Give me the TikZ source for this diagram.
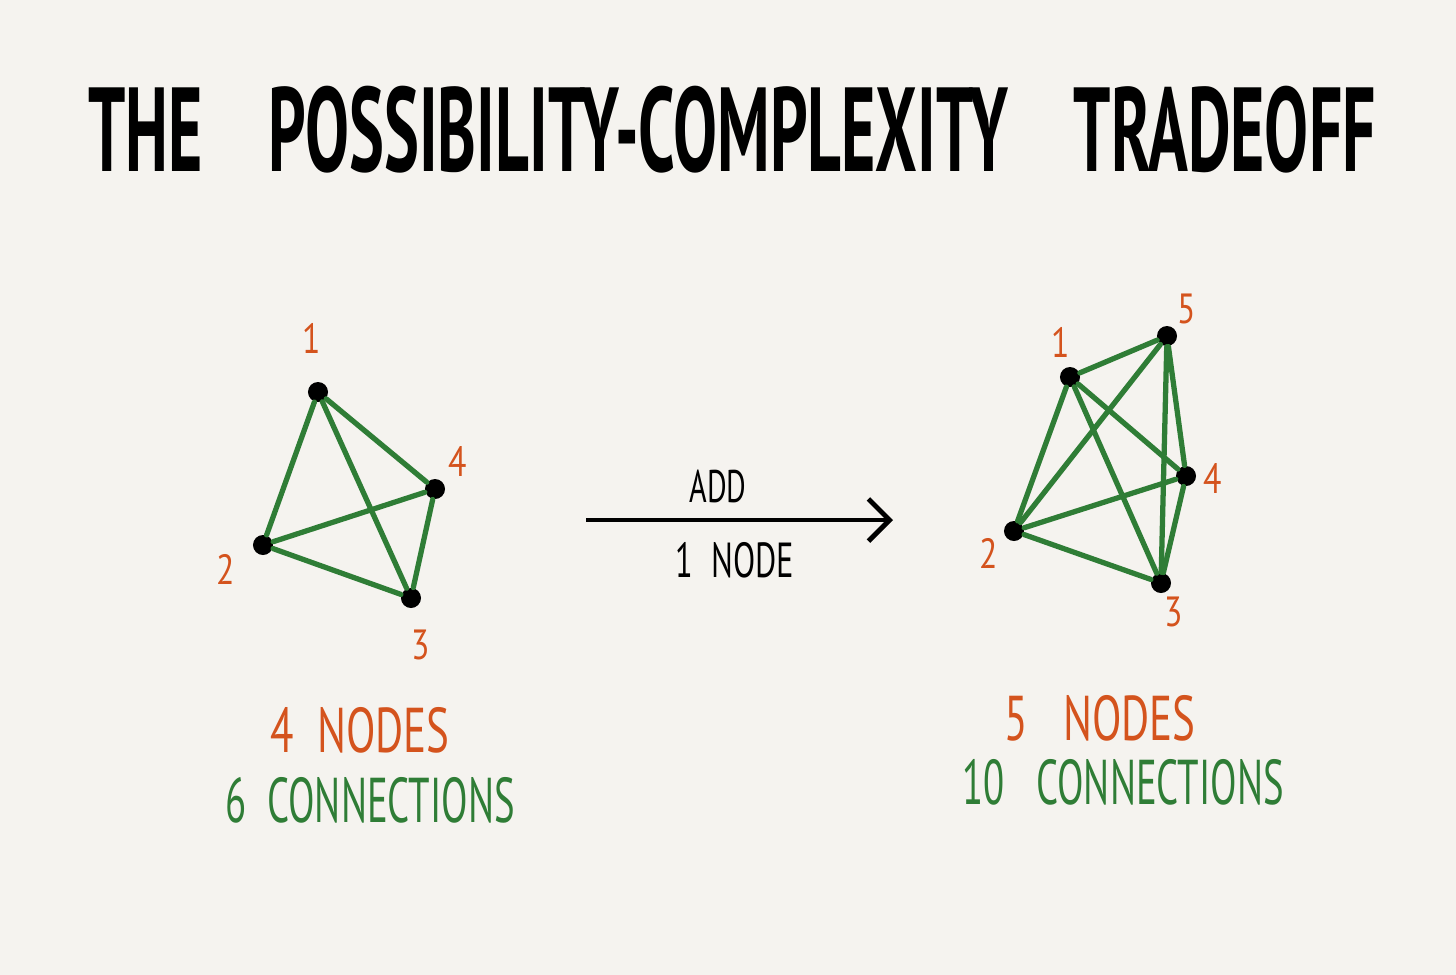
\documentclass[tikz,border=0pt]{standalone}
\usepackage{fontspec}
\setmainfont{PT Sans}
\usetikzlibrary{arrows.meta}
\definecolor{papel}{HTML}{F5F3EF}
\definecolor{naranja}{HTML}{D4531D}
\definecolor{verde}{HTML}{2F7D36}

\begin{document}
\begin{tikzpicture}[x=0.01cm,y=-0.01cm,
  punto/.style={circle,fill=black,inner sep=0pt,minimum size=0.2cm},
  arista/.style={verde,line width=1.5pt,line cap=round},
  num/.style={naranja,font=\fontsize{12}{12}\selectfont,xscale=0.8},
  cuenta/.style={font=\fontsize{18}{18}\selectfont,xscale=0.68}]
% fondo (x1 , y1 )(x2 , y2)
\fill[papel] (0,0) rectangle (1456,975);

%% titulo %%%%%%%%%%%%%%%%%%%%%%%%%%%%%%%%%%%%%%%%%%
\node[font=\fontsize{34}{34}\bfseries,xscale=0.55] (titulo) at (732,130)
  {THE\quad POSSIBILITY-COMPLEXITY\quad TRADEOFF};

%% grafo de 4 nodos %%%%%%%%%%%%%%%%%%%%%%%%%%%%%%%%
\node[punto] (a1) at (318,392) {};
\node[punto] (a2) at (263,545) {};
\node[punto] (a3) at (411,598) {};
\node[punto] (a4) at (435,489) {};
\foreach \i/\j in {1/2,1/3,1/4,2/3,2/4,3/4}{
\draw[arista] (a\i) -- (a\j);
}
\node[num] (la1) at (312,338) {1};
\node[num] (la2) at (226,569) {2};
\node[num] (la3) at (421,645) {3};
\node[num] (la4) at (458,461) {4};

%% flecha: add 1 node %%%%%%%%%%%%%%%%%%%%%%%%%%%%%%
\coordinate (ini) at (586,520);
\coordinate (fin) at (893,520);
\draw[line width=1.4pt,-{Straight Barb[length=6pt,width=12pt]}] (ini) -- (fin);
\node[font=\fontsize{13}{13}\selectfont,xscale=0.66] (add) at (718,486) {ADD};
\node[font=\fontsize{14}{14}\selectfont,xscale=0.66] (uno) at (735,560) {1\; NODE};

%% grafo de 5 nodos %%%%%%%%%%%%%%%%%%%%%%%%%%%%%%%%
\node[punto] (b1) at (1070,377) {};
\node[punto] (b2) at (1014,531) {};
\node[punto] (b3) at (1161,583) {};
\node[punto] (b4) at (1186,476) {};
\node[punto] (b5) at (1167,336) {};
\foreach \i/\j in {1/2,1/3,1/4,1/5,2/3,2/4,2/5,3/4,3/5,4/5}{
\draw[arista] (b\i) -- (b\j);
}
\node[num] (lb1) at (1061,342) {1};
\node[num] (lb2) at (989,553) {2};
\node[num] (lb3) at (1174,612) {3};
\node[num] (lb4) at (1213,478) {4};
\node[num] (lb5) at (1187,309) {5};

%% conteos %%%%%%%%%%%%%%%%%%%%%%%%%%%%%%%%%%%%%%%%%
\node[cuenta,naranja] (na) at (360,730) {4\; NODES};
\node[cuenta,verde,xscale=0.9] (ca) at (370,800) {6\; CONNECTIONS};
\node[cuenta,naranja] (nb) at (1100,718) {5\;\; NODES};
\node[cuenta,verde,xscale=0.9] (cb) at (1123,782) {10\;\; CONNECTIONS};
\end{tikzpicture}
\end{document}
